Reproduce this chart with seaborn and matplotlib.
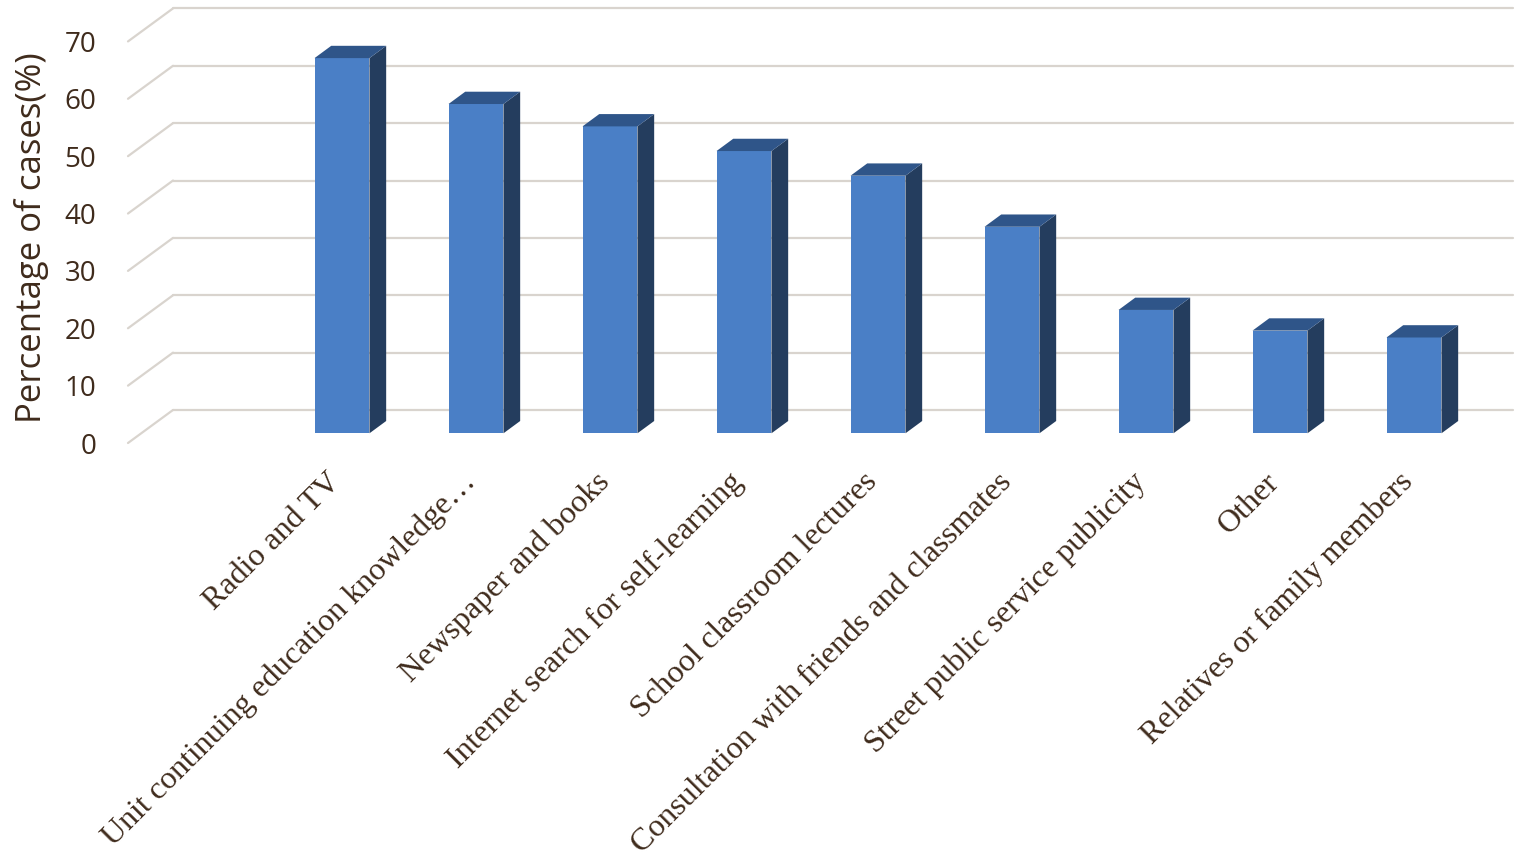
import numpy as np
import pandas as pd
import seaborn as sns
import matplotlib.pyplot as plt
from matplotlib.patches import Polygon

# data
categories = ["Radio and TV",
              "Unit continuing education knowledge\u2026",
              "Newspaper and books",
              "Internet search for self-learning",
              "School classroom lectures",
              "Consultation with friends and classmates",
              "Street public service publicity",
              "Other",
              "Relatives or family members"]
values = [65.4, 57.4, 53.5, 49.2, 44.9, 36.0, 21.5, 17.9, 16.7]
y_ticks = [0, 10, 20, 30, 40, 50, 60, 70]

df = pd.DataFrame({"source": categories, "pct": values})

sns.set_style("white")
plt.rcParams['font.family'] = ['Open Sans', 'DejaVu Sans']

face_col = "#4a7fc6"
top_col = "#2f5589"
side_col = "#243d5e"
grid_col = "#d9d4ce"
text_col = "#3f2b1c"

W, H = 1535, 863
fig = plt.figure(figsize=(W / 100, H / 100), dpi=100)
ax_left, ax_bottom, ax_w, ax_h = 128, 443, 1385, 436
ax = fig.add_axes([ax_left / W, (H - ax_bottom) / H, ax_w / W, ax_h / H])

sns.barplot(data=df, x="source", y="pct", order=categories, width=0.41,
            color=face_col, saturation=1, linewidth=0, ax=ax, zorder=3)

x_lo, x_hi = -1.5, 8.5
y_top = 76
# fake 3d look: offsets in pixels, turned into data units below
wall_px = (45, 33)
face_px = (13, 9.7)
depth_px = (16.7, 12.3)
x_max = x_hi + wall_px[0] * (x_hi - x_lo) / (ax_w - wall_px[0])
ax.set_xlim(x_lo, x_max)
ax.set_ylim(0, y_top)
sx = ax_w / (x_max - x_lo)
sy = ax_h / y_top
wall_dx, wall_dy = wall_px[0] / sx, wall_px[1] / sy
face_dx, face_dy = face_px[0] / sx, face_px[1] / sy
dep_dx, dep_dy = depth_px[0] / sx, depth_px[1] / sy

# back wall + floor-side gridlines
for v in y_ticks:
    ax.plot([x_lo, x_lo + wall_dx], [v, v + wall_dy], color=grid_col,
            lw=1.6, zorder=1, clip_on=False)
    ax.plot([x_lo + wall_dx, x_hi + wall_dx], [v + wall_dy, v + wall_dy],
            color=grid_col, lw=1.6, zorder=1, clip_on=False)

centers = []
for p in ax.patches[:len(values)]:
    x0 = p.get_x() + face_dx
    w = p.get_width()
    h = p.get_height()
    p.set_x(x0)
    p.set_y(face_dy)
    y0, y1 = face_dy, face_dy + h
    x1 = x0 + w
    side = Polygon([(x1, y0), (x1 + dep_dx, y0 + dep_dy),
                    (x1 + dep_dx, y1 + dep_dy), (x1, y1)],
                   closed=True, facecolor=side_col, edgecolor='none', zorder=3)
    top = Polygon([(x0, y1), (x1, y1), (x1 + dep_dx, y1 + dep_dy),
                   (x0 + dep_dx, y1 + dep_dy)],
                  closed=True, facecolor=top_col, edgecolor='none', zorder=3)
    ax.add_patch(side)
    ax.add_patch(top)
    centers.append(x0 + w / 2 - 5 / sx)

for s in ax.spines.values():
    s.set_visible(False)

ax.set_yticks(y_ticks)
ax.set_yticklabels([str(v) for v in y_ticks])
ax.tick_params(axis='y', length=0, pad=23, labelsize=20, labelcolor=text_col)
ax.set_xticks(centers)
ax.set_xticklabels(categories, rotation=45, ha='right', va='center',
                   rotation_mode='anchor', fontsize=23, color=text_col,
                   family=['Liberation Serif', 'DejaVu Serif'])
ax.tick_params(axis='x', length=0, pad=25)
ax.set_xlabel("")
ax.set_ylabel("Percentage of cases(%)", fontsize=25, color=text_col)
ax.yaxis.set_label_coords(-0.057, 0.47)

fig.savefig("out.png", dpi=100)
